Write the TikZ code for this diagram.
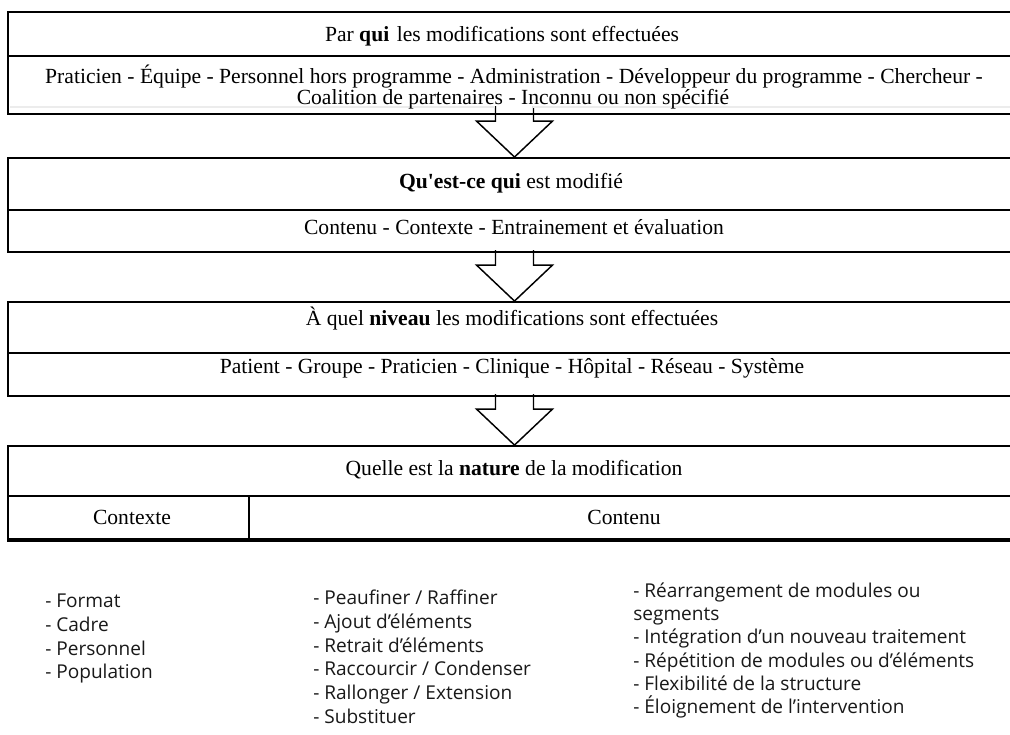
\documentclass[tikz,border=0pt]{standalone}
\usepackage{fontspec}
\setmainfont{Liberation Serif}
\newfontfamily\listfont[Ligatures=NoCommon]{Open Sans}
\usetikzlibrary{fit}
\begin{document}
\begin{tikzpicture}[x=0.75pt,y=-0.75pt,
  boxnode/.style={draw, line width=1.4pt, inner sep=0pt},
  divider/.style={line width=1.3pt},
  title/.style={font=\fontsize{16.2pt}{18pt}\selectfont, inner sep=0pt, anchor=base},
  item/.style={font=\listfont\fontsize{14.3pt}{16pt}\selectfont, inner sep=0pt, anchor=base west, text=black!90},
  blockarrow/.style={line width=1.1pt, line join=miter},
  downarrow/.pic={\draw[blockarrow] (-19,-51) -- (-19,-36) -- (-38,-36) -- (0,0) -- (38,-36) -- (19,-36) -- (19,-51);}]
\useasboundingbox (0,0) rectangle (1010,735);
\fill[white] (0,0) rectangle (1010,735);

% boxes
\node[boxnode, fit={(8,12) (1030,114)}] (b1) {};
\node[boxnode, fit={(8,158) (1030,252)}] (b2) {};
\node[boxnode, fit={(8,302) (1030,396)}] (b3) {};
\node[boxnode, fit={(8,446) (1030,539)}] (b4) {};
\coordinate (axis) at (514.5,0);

% arrows between boxes
\pic at (axis |- b2.north) {downarrow};
\pic at (axis |- b3.north) {downarrow};
\pic at (axis |- b4.north) {downarrow};
\draw[gray!15, line width=0.8pt] (10,107) -- (495,107) (533,107) -- (1010,107);

% dividers
\draw[divider] (b1.west |- 0,56) -- (b1.east |- 0,56);
\draw[divider] (b2.west |- 0,210) -- (b2.east |- 0,210);
\draw[divider] (b3.west |- 0,353) -- (b3.east |- 0,353);
\draw[divider] (b4.west |- 0,496) -- (b4.east |- 0,496);
\draw[divider] (249,496) -- (249,539);
\draw[line width=2.6pt] (b4.south west) -- (b4.south east);

% texts
\node[title] (q1) at (502,42) {Par \textbf{qui}\hspace{0.1em} les modifications sont effectuées};
\node[title] (r1a) at (514,84) {Praticien - Équipe - Personnel hors programme - Administration - Développeur du programme - Chercheur -};
\node[title] (r1b) at (513,104) {Coalition de partenaires - Inconnu ou non spécifié};
\node[title] (q2) at (511,188) {\textbf{Qu\textquotesingle est-ce qui} est modifié};
\node[title] (r2) at (514,234) {Contenu - Contexte - Entrainement et évaluation};
\node[title] (q3) at (512,325) {À quel \textbf{niveau} les modifications sont effectuées};
\node[title] (r3) at (512,373) {Patient - Groupe - Praticien - Clinique - Hôpital - Réseau - Système};
\node[title] (q4) at (514,475) {Quelle est la \textbf{nature} de la modification};
\node[title] (c1) at (132,524) {Contexte};
\node[title] (c2) at (624,524) {Contenu};

% lists
\node[item] (l11) at (45,607) {- Format};
\node[item] (l12) at (45,631) {- Cadre};
\node[item] (l13) at (45,655) {- Personnel};
\node[item] (l14) at (45,678) {- Population};

\node[item] (l21) at (313,604) {- Peaufiner / Raffiner};
\node[item] (l22) at (313,628) {- Ajout d’éléments};
\node[item] (l23) at (313,652) {- Retrait d’éléments};
\node[item] (l24) at (313,675) {- Raccourcir / Condenser};
\node[item] (l25) at (313,699) {- Rallonger / Extension};
\node[item] (l26) at (313,723) {- Substituer};

\node[item] (l31) at (633,597) {- Réarrangement de modules ou};
\node[item] (l32) at (633,620) {segments};
\node[item] (l33) at (633,643) {- Intégration d’un nouveau traitement};
\node[item] (l34) at (633,667) {- Répétition de modules ou d’éléments};
\node[item] (l35) at (633,690) {- Flexibilité de la structure};
\node[item] (l36) at (633,713) {- Éloignement de l’intervention};
\end{tikzpicture}
\end{document}
